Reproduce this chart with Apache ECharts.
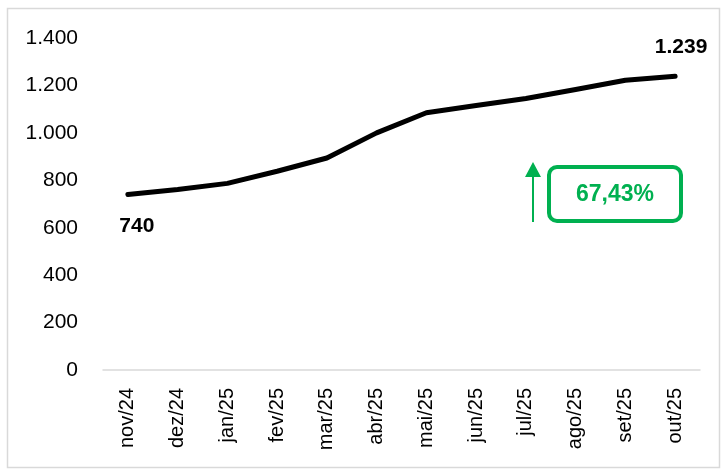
<!DOCTYPE html>
<html lang="pt">
<head>
    <meta charset="UTF-8">
    <title>Evolução</title>
    <script src="https://cdn.jsdelivr.net/npm/echarts@6/dist/echarts.min.js"></script>
    <style>
        html, body { margin: 0; padding: 0; background: #fff; }
        #main { width: 721px; height: 470px; }
    </style>
</head>
<body>
<div id="main"></div>
<script>
    var meses = ['nov/24', 'dez/24', 'jan/25', 'fev/25', 'mar/25', 'abr/25',
        'mai/25', 'jun/25', 'jul/25', 'ago/25', 'set/25', 'out/25'];
    var valores = [740, 761, 787, 838, 894, 1000, 1085, 1115, 1145, 1183, 1222, 1239];
    var eixoY = { min: 0, max: 1400, interval: 200 };

    var fonte = "'Liberation Sans', Arial, sans-serif";

    function fmt(v) {
        return String(v).replace(/\B(?=(\d{3})+(?!\d))/g, '.');
    }

    var ultimo = valores.length - 1;
    var variacao = ((valores[ultimo] / valores[0] - 1) * 100).toFixed(2).replace('.', ',') + '%';

    var myChart = echarts.init(document.getElementById('main'));
    var option = {
        backgroundColor: '#fff',
        animation: false,
        grid: { left: 103, right: 21, top: 38, bottom: 100 },
        xAxis: {
            type: 'category',
            data: meses,
            boundaryGap: true,
            axisLine: { lineStyle: { color: '#d9d9d9', width: 1.5 } },
            axisTick: { show: false },
            axisLabel: {
                rotate: 90,
                margin: 18,
                color: '#000',
                fontSize: 20,
                fontFamily: fonte
            }
        },
        yAxis: {
            type: 'value',
            min: eixoY.min,
            max: eixoY.max,
            interval: eixoY.interval,
            axisLine: { show: false },
            axisTick: { show: false },
            splitLine: { show: false },
            axisLabel: {
                margin: 25,
                color: '#000',
                fontSize: 21,
                fontFamily: fonte,
                formatter: fmt
            }
        },
        graphic: [
            {
                type: 'rect',
                shape: { x: 7.5, y: 8.5, width: 712, height: 459 },
                style: { fill: 'none', stroke: '#d9d9d9', lineWidth: 1.5 },
                silent: true
            },
            {
                type: 'rect',
                shape: { x: 549, y: 167, width: 132, height: 54, r: 8 },
                style: { fill: '#fff', stroke: '#00b050', lineWidth: 4 }
            },
            {
                type: 'text',
                x: 615, y: 195,
                style: {
                    text: variacao,
                    fill: '#00b050',
                    font: 'bold 23px ' + fonte,
                    align: 'center',
                    verticalAlign: 'middle'
                }
            },
            {
                type: 'line',
                shape: { x1: 533, y1: 222, x2: 533, y2: 172 },
                style: { stroke: '#00b050', lineWidth: 2 }
            },
            {
                type: 'polygon',
                shape: { points: [[525, 177], [533, 162], [541, 177]] },
                style: { fill: '#00b050' }
            }
        ],
        series: [
            {
                type: 'line',
                data: valores,
                symbol: 'none',
                smooth: false,
                lineStyle: { color: '#000', width: 5, cap: 'round', join: 'round' },
                label: { show: false },
                markPoint: {
                    symbol: 'circle',
                    symbolSize: 0,
                    data: [
                        {
                            coord: [0, valores[0]],
                            value: valores[0],
                            label: {
                                show: true, position: 'bottom', distance: 21, offset: [9, 0],
                                formatter: function (p) { return fmt(p.value); },
                                color: '#000', fontSize: 21, fontWeight: 'bold', fontFamily: fonte
                            }
                        },
                        {
                            coord: [ultimo, valores[ultimo]],
                            value: valores[ultimo],
                            label: {
                                show: true, position: 'top', distance: 18, offset: [6, 0],
                                formatter: function (p) { return fmt(p.value); },
                                color: '#000', fontSize: 21, fontWeight: 'bold', fontFamily: fonte
                            }
                        }
                    ]
                }
            }
        ]
    };
    myChart.setOption(option);
</script>
</body>
</html>
